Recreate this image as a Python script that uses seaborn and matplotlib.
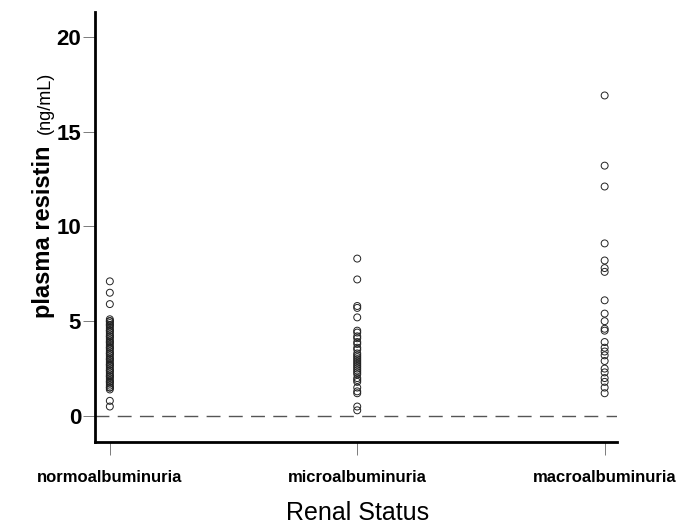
import numpy as np
import pandas as pd
import matplotlib
matplotlib.use("Agg")
import matplotlib.pyplot as plt
import seaborn as sns

# renal status groups and plasma resistin (ng/mL)
categories = ["normoalbuminuria", "microalbuminuria", "macroalbuminuria"]

normo = [7.1, 6.5, 5.9, 5.1, 5.0, 5.0, 4.9, 4.8, 4.8, 4.7, 4.6, 4.5, 4.5, 4.4,
         4.3, 4.2, 4.2, 4.1, 4.0, 3.9, 3.9, 3.8, 3.7, 3.6, 3.6, 3.5, 3.4, 3.3,
         3.3, 3.2, 3.1, 3.0, 3.0, 2.9, 2.8, 2.7, 2.7, 2.6, 2.5, 2.4, 2.4, 2.3,
         2.2, 2.1, 2.1, 2.0, 1.9, 1.8, 1.8, 1.7, 1.6, 1.5, 1.5, 1.4, 0.8, 0.5]
micro = [8.3, 7.2, 5.8, 5.7, 5.2, 4.5, 4.4, 4.2, 4.1, 3.9, 3.8, 3.6, 3.5, 3.3,
         3.2, 3.1, 3.0, 2.9, 2.8, 2.7, 2.6, 2.5, 2.4, 2.3, 2.2, 2.0, 1.9, 1.8,
         1.5, 1.3, 1.2, 0.5, 0.3]
macro = [16.9, 13.2, 12.1, 9.1, 8.2, 7.8, 7.6, 6.1, 5.4, 5.0, 4.6, 4.5, 3.9,
         3.6, 3.4, 3.2, 2.9, 2.5, 2.3, 2.0, 1.8, 1.5, 1.2]

y_ticks = [0, 5, 10, 15, 20]

df = pd.DataFrame({
    "status": [categories[0]] * len(normo) + [categories[1]] * len(micro) + [categories[2]] * len(macro),
    "resistin": normo + micro + macro,
})

sns.set_style("white")
plt.rcParams["font.family"] = ["Liberation Sans", "DejaVu Sans"]
plt.rcParams["text.color"] = "black"
plt.rcParams["xtick.color"] = "black"
plt.rcParams["ytick.color"] = "black"

fig = plt.figure(figsize=(6.77, 5.27), dpi=100)
ax = fig.add_axes([0.1403, 0.1613, 0.7711, 0.8159])

sns.stripplot(data=df, x="status", y="resistin", order=categories, jitter=False,
              color="black", size=5, linewidth=0.7, ax=ax)
for coll in ax.collections:
    coll.set_facecolor("none")
    coll.set_edgecolor("#222222")

# dashed reference line at zero
ax.axhline(0, color="#555555", lw=1.0, dashes=(10, 6))

ax.set_xlim(-0.06, 2.05)
ax.set_ylim(-1.37, 21.3)
ax.set_yticks(y_ticks)
ax.set_yticklabels([str(v) for v in y_ticks], fontsize=16, fontweight="bold")
ax.set_xticks(range(len(categories)))
ax.set_xticklabels(categories, fontsize=12, fontweight="bold")
ax.tick_params(axis="y", direction="out", length=9, width=0.6, color="#666666", pad=1, left=True)
ax.tick_params(axis="x", direction="out", length=9, width=0.6, color="#666666", pad=11, bottom=True)

for side in ["top", "right"]:
    ax.spines[side].set_visible(False)
for side in ["left", "bottom"]:
    ax.spines[side].set_linewidth(2)
    ax.spines[side].set_color("black")

ax.set_xlabel("")
ax.set_ylabel("")

# axis titles
fig.text(50 / 677, 1 - 318 / 527, "plasma resistin", rotation=90, rotation_mode="anchor",
         ha="left", va="baseline", fontsize=17, fontweight="bold")
fig.text(50 / 677, 1 - 134 / 527, "(ng/mL)", rotation=90, rotation_mode="anchor",
         ha="left", va="baseline", fontsize=13)
fig.text(358 / 677, 1 - 520 / 527, "Renal Status", ha="center", va="baseline", fontsize=18)

fig.savefig("out.png", dpi=100)
